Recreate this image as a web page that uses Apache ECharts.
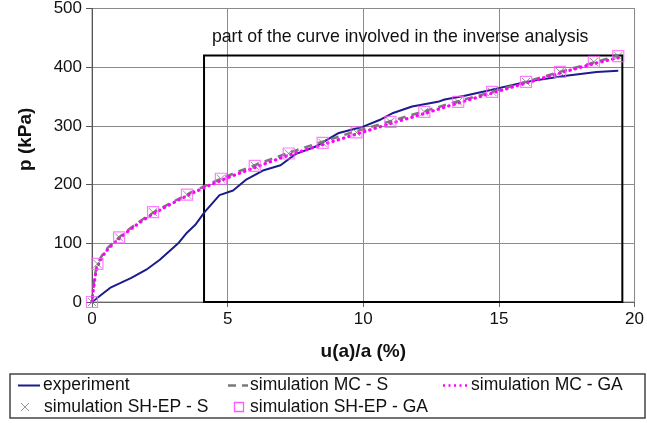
<!DOCTYPE html>
<html>
<head>
<meta charset="utf-8">
<script src="https://cdn.jsdelivr.net/npm/echarts@6/dist/echarts.min.js"></script>
<style>
  html, body { margin: 0; padding: 0; background: #fff; }
  #chart { width: 647px; height: 423px; }
</style>
</head>
<body>
<div id="chart"></div>
<script>
// Pressure p (kPa) versus normalised displacement u(a)/a (%)
var experiment = [
  [0, 0], [0.7, 25], [1.45, 41], [2.0, 55], [2.5, 72], [3.2, 101], [3.5, 118],
  [3.8, 131], [4.15, 153], [4.7, 182], [5.2, 190], [5.7, 209], [6.3, 224],
  [6.95, 233], [7.5, 252], [8.25, 265], [9.1, 288], [9.95, 298], [10.6, 310],
  [11.1, 322], [11.8, 333], [12.75, 341], [13.0, 345], [13.7, 351], [14.7, 361],
  [16.0, 375], [17.4, 385], [18.6, 392], [19.4, 394]
];
var simMCS = [
  [0, 0], [0.1, 42], [0.2, 64], [0.5, 88], [1.0, 110], [1.6, 132], [2.25, 152],
  [3.5, 183], [4.75, 210], [6.0, 233], [7.25, 254], [8.5, 273], [9.75, 291],
  [11.0, 308], [12.25, 325], [13.5, 342], [14.75, 358], [16.0, 375], [17.25, 392],
  [18.5, 408], [19.4, 420]
];
var simMCGA = [
  [0, 0], [0.1, 38], [0.2, 60], [0.5, 85], [1.0, 108], [1.6, 130], [2.25, 150],
  [3.5, 181], [4.75, 207], [6.0, 229], [7.25, 250], [8.5, 268], [9.75, 286],
  [11.0, 304], [12.25, 321], [13.5, 339], [14.75, 356], [16.0, 373], [17.25, 390],
  [18.5, 406], [19.4, 416]
];
var simSHEPS = [
  [0, 0], [0.2, 65], [1.0, 110], [2.25, 153], [3.5, 183], [4.75, 210], [6.0, 232],
  [7.25, 253], [8.5, 271], [9.75, 289], [11.0, 307], [12.25, 324], [13.5, 341],
  [14.75, 358], [16.0, 375], [17.25, 392], [18.5, 409], [19.4, 419]
];
var simSHEPGA = [
  [0, 0], [0.2, 65], [1.0, 110], [2.25, 153], [3.5, 183], [4.75, 210], [6.0, 232],
  [7.25, 253], [8.5, 271], [9.75, 289], [11.0, 307], [12.25, 324], [13.5, 341],
  [14.75, 358], [16.0, 375], [17.25, 392], [18.5, 409], [19.4, 419]
];
// Range of the curve used in the inverse analysis: [x from, x to, p top]
var inverseRange = [4.13, 19.55, 420];
var inverseLabel = 'part of the curve involved in the inverse analysis';
var seriesNames = ['experiment', 'simulation MC - S', 'simulation MC - GA',
                   'simulation SH-EP - S', 'simulation SH-EP - GA'];

var FONT = '"Liberation Sans", Arial, sans-serif';
var NAVY = '#1c1c8c', GREY = '#7a7a7a', MAGENTA = '#ff00ff', PINK = '#ff5cff';

var chart = echarts.init(document.getElementById('chart'), null, { renderer: 'canvas' });

// Legend drawn as a boxed two-row key below the plot
function legendGraphics() {
  var g = [];
  g.push({ type: 'rect', shape: { x: 10, y: 374, width: 635, height: 44 },
    style: { fill: '#fff', stroke: '#444', lineWidth: 1.5 } });
  var r1 = 385.5, r2 = 407;
  g.push({ type: 'line', shape: { x1: 18, y1: r1, x2: 40, y2: r1 },
    style: { stroke: NAVY, lineWidth: 2 } });
  g.push({ type: 'line', shape: { x1: 228, y1: r1, x2: 248, y2: r1 },
    style: { stroke: GREY, lineWidth: 2.5, lineDash: [8, 6] } });
  g.push({ type: 'line', shape: { x1: 443, y1: r1, x2: 467, y2: r1 },
    style: { stroke: MAGENTA, lineWidth: 2.5, lineDash: [2, 3.5] } });
  g.push({ type: 'line', shape: { x1: 21, y1: r2 - 4, x2: 29, y2: r2 + 4 },
    style: { stroke: '#999', lineWidth: 1 } });
  g.push({ type: 'line', shape: { x1: 29, y1: r2 - 4, x2: 21, y2: r2 + 4 },
    style: { stroke: '#999', lineWidth: 1 } });
  g.push({ type: 'rect', shape: { x: 234.5, y: r2 - 4.5, width: 9, height: 9 },
    style: { stroke: PINK, lineWidth: 1.3, fill: 'rgba(0,0,0,0)' } });
  var texts = [[43, r1, 0], [250, r1, 1], [471, r1, 2], [44, r2, 3], [250, r2, 4]];
  texts.forEach(function (t) {
    g.push({ type: 'text', x: t[0], y: t[1],
      style: { text: seriesNames[t[2]], font: '17.5px ' + FONT, fill: '#111',
        verticalAlign: 'middle', align: 'left' } });
  });
  return g;
}

var option = {
  backgroundColor: '#fff',
  animation: false,
  textStyle: { fontFamily: FONT },
  grid: { left: 92, right: 9, top: 8, bottom: 121, show: true,
    borderColor: '#8a8a8a', borderWidth: 1, backgroundColor: 'transparent' },
  xAxis: {
    type: 'value', min: 0, max: 20, interval: 5,
    name: 'u(a)/a (%)', nameLocation: 'middle', nameGap: 40,
    nameTextStyle: { fontSize: 19, fontWeight: 'bold', color: '#111', fontFamily: FONT },
    axisLine: { show: true, lineStyle: { color: '#666', width: 1 } },
    axisTick: { show: true, inside: false, length: 5, lineStyle: { color: '#666' } },
    axisLabel: { fontSize: 17, color: '#111', margin: 9, fontFamily: FONT },
    splitLine: { show: true, lineStyle: { color: '#8a8a8a', width: 1 } }
  },
  yAxis: {
    type: 'value', min: 0, max: 500, interval: 100,
    name: 'p (kPa)', nameLocation: 'middle', nameGap: 57, nameRotate: 90,
    nameTextStyle: { fontSize: 19, fontWeight: 'bold', color: '#111', fontFamily: FONT,
      padding: [0, 0, 0, 32] },
    axisLine: { show: true, lineStyle: { color: '#555', width: 1 } },
    axisTick: { show: true, inside: false, length: 6, lineStyle: { color: '#555' } },
    axisLabel: { fontSize: 17, color: '#111', margin: 10, fontFamily: FONT },
    splitLine: { show: true, lineStyle: { color: '#8a8a8a', width: 1 } }
  },
  series: [
    {
      name: seriesNames[0], type: 'line', data: experiment, symbol: 'none', z: 5,
      lineStyle: { color: NAVY, width: 2 },
      markArea: {
        silent: true,
        itemStyle: { color: 'rgba(0,0,0,0)', borderColor: '#000', borderWidth: 2 },
        label: { show: true, position: 'top', distance: 8, offset: [-13, 0],
          formatter: inverseLabel, fontSize: 17.7, color: '#111', fontFamily: FONT },
        data: [[{ xAxis: inverseRange[0], yAxis: 0 },
                { xAxis: inverseRange[1], yAxis: inverseRange[2] }]]
      }
    },
    {
      name: seriesNames[1], type: 'line', data: simMCS, symbol: 'none', smooth: 0.3, z: 6,
      lineStyle: { color: GREY, width: 2.5, type: [8, 6] }
    },
    {
      name: seriesNames[2], type: 'line', data: simMCGA, symbol: 'none', smooth: 0.3, z: 7,
      lineStyle: { color: MAGENTA, width: 3.2, type: [0.5, 5], cap: 'round' }
    },
    {
      name: seriesNames[3], type: 'scatter', data: simSHEPS, z: 8,
      symbol: 'path://M0,0L10,10M10,0L0,10', symbolSize: 8,
      itemStyle: { color: 'rgba(0,0,0,0)', borderColor: '#777', borderWidth: 1 }
    },
    {
      name: seriesNames[4], type: 'scatter', data: simSHEPGA, z: 9,
      symbol: 'rect', symbolSize: 11,
      itemStyle: { color: 'rgba(0,0,0,0)', borderColor: PINK, borderWidth: 1.2 }
    }
  ],
  graphic: legendGraphics()
};

chart.setOption(option);
</script>
</body>
</html>
